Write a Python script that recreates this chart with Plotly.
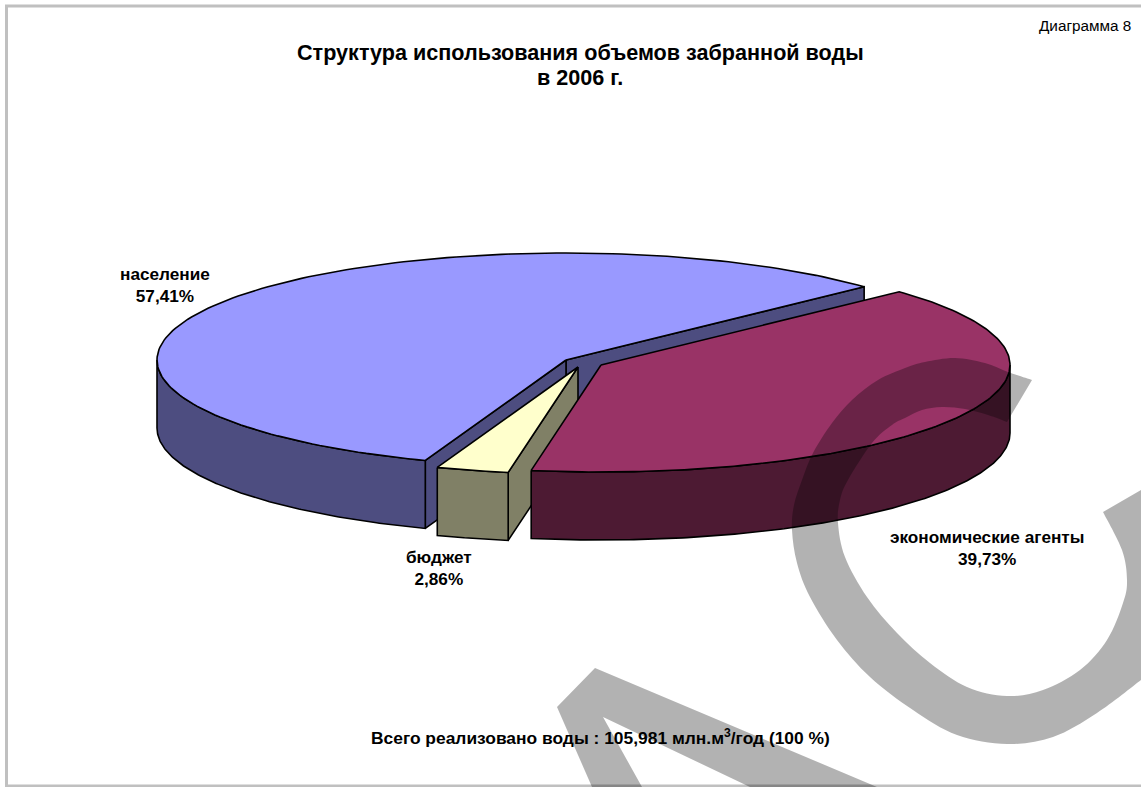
"""Структура использования воды: псевдо-3D круговая диаграмма на go.Scatter."""

import numpy as np
import plotly.graph_objects as go

categories = ["население", "бюджет", "экономические агенты"]
shares = [57.41, 2.86, 39.73]

title_lines = ["Структура использования объемов забранной воды", "в 2006 г."]
total_note = "Всего реализовано воды : 105,981 млн.м<sup>3</sup>/год (100 %)"
corner_note = "Диаграмма 8"

# геометрия "тарелки" в пикселях картинки
START_DEG = 43.2
RX, RY, DEPTH = 409, 107, 68
APEX = [(566, 360), (578, 367), (601, 365)]
TOP_COLORS = ["#9999ff", "#ffffcc", "#993366"]
SIDE_COLORS = ["#4d4d80", "#808066", "#4d1a33"]
LABEL_POS = [(165, 285), (439, 568), (987, 548)]
TITLE_Y = [52, 77]
FONT = "Liberation Sans, Arial, sans-serif"

WATERMARK = "rgba(0,0,0,0.3)"
C_OUTER = [(1141, 680), (1097, 713), (1053, 737), (1007, 744), (957, 735), (913, 710),
           (870, 677), (837, 640), (810, 597), (797, 563), (792, 530), (794, 505), (802, 480),
           (813, 453), (832, 423), (852, 400), (878, 380), (905, 368), (925, 362),
           (955, 358), (985, 363), (1008, 372), (1032, 380)]
C_INNER = [(1007, 422), (988, 415), (965, 409), (942, 407), (922, 410), (905, 418),
           (892, 425), (872, 443), (848, 480), (840, 500), (838, 523), (845, 557),
           (867, 597), (897, 633), (930, 663), (967, 687), (1007, 696), (1043, 690),
           (1080, 670), (1107, 640), (1123, 603), (1127, 580), (1122, 550), (1103, 512)]
N_POLY = [(595, 668), (877, 787), (750, 787), (603, 717), (642, 787), (592, 787), (557, 707)]


def arc(apex, a0, a1):
    t = np.radians(np.linspace(a0, a1, 160))
    return apex[0] + RX * np.cos(t), apex[1] - RY * np.sin(t)


def edge(apex, a):
    t = np.radians(a)
    return apex[0] + RX * np.cos(t), apex[1] - RY * np.sin(t)


def poly(fig, xs, ys, color, name):
    fig.add_trace(go.Scatter(
        x=list(xs) + [xs[0]], y=list(ys) + [ys[0]], mode="lines", fill="toself",
        fillcolor=color, line=dict(color="#000000", width=1.6), name=name,
        hoverinfo="name", showlegend=False,
    ))


def side(fig, apex, a0, a1, color, name):
    x, y = arc(apex, a0, a1)
    poly(fig, list(x) + list(x[::-1]), list(y) + list(y[::-1] + DEPTH), color, name)


def wall(fig, apex, a, color, name):
    ex, ey = edge(apex, a)
    poly(fig, [apex[0], ex, ex, apex[0]],
         [apex[1], ey, ey + DEPTH, apex[1] + DEPTH], color, name)


def top(fig, apex, a0, a1, color, name):
    x, y = arc(apex, a0, a1)
    poly(fig, [apex[0]] + list(x), [apex[1]] + list(y), color, name)


def smooth(points):
    """Catmull-Rom -> cubic bezier, кусок SVG-пути без начального M."""
    out = []
    for i in range(len(points) - 1):
        p0 = points[max(i - 1, 0)]
        p1, p2 = points[i], points[i + 1]
        p3 = points[min(i + 2, len(points) - 1)]
        c1 = (p1[0] + (p2[0] - p0[0]) / 6, p1[1] + (p2[1] - p0[1]) / 6)
        c2 = (p2[0] - (p3[0] - p1[0]) / 6, p2[1] - (p3[1] - p1[1]) / 6)
        out.append(f"C{c1[0]:.1f},{c1[1]:.1f} {c2[0]:.1f},{c2[1]:.1f} {p2[0]},{p2[1]}")
    return " ".join(out)


# границы секторов из долей
bounds = [START_DEG]
for v in shares:
    bounds.append(bounds[-1] + v * 3.6)

fig = go.Figure()

# население: сначала внутренние стенки, потом обод и верх
a0, a1 = bounds[0], bounds[1]
wall(fig, APEX[0], a0, SIDE_COLORS[0], categories[0])
wall(fig, APEX[0], a1, SIDE_COLORS[0], categories[0])
side(fig, APEX[0], 180, a1, SIDE_COLORS[0], categories[0])
top(fig, APEX[0], a0, a1, TOP_COLORS[0], categories[0])

# бюджет
a0, a1 = bounds[1], bounds[2]
wall(fig, APEX[1], a1, SIDE_COLORS[1], categories[1])
side(fig, APEX[1], a0, a1, SIDE_COLORS[1], categories[1])
top(fig, APEX[1], a0, a1, TOP_COLORS[1], categories[1])

# экономические агенты
a0, a1 = bounds[2], bounds[3]
side(fig, APEX[2], a0, 360, SIDE_COLORS[2], categories[2])
top(fig, APEX[2], a0, a1, TOP_COLORS[2], categories[2])

annotations = []
for name, v, (lx, ly) in zip(categories, shares, LABEL_POS):
    annotations.append(dict(
        x=lx, y=ly, text=f"<b>{name}<br>{v:.2f}%</b>".replace(".", ","),
        showarrow=False, font=dict(size=17.2, color="#000000"),
    ))
# строки заголовка отдельно: межстрочный интервал плотнее, чем даёт plotly
for line, ty in zip(title_lines, TITLE_Y):
    annotations.append(dict(x=580, y=ty, text=f"<b>{line}</b>", showarrow=False,
                            font=dict(size=21.6, color="#000000")))
annotations.append(dict(x=600, y=737, text="<b>" + total_note + "</b>", showarrow=False,
                        font=dict(size=17.4, color="#000000")))
annotations.append(dict(x=1133, y=25, text=corner_note, xanchor="right", showarrow=False,
                        font=dict(size=15.3, color="#000000")))

c_path = (f"M{C_OUTER[0][0]},{C_OUTER[0][1]} " + smooth(C_OUTER)
          + f" L{C_INNER[0][0]},{C_INNER[0][1]} " + smooth(C_INNER)
          + " L1141,490 Z")
n_path = "M" + " L".join(f"{x},{y}" for x, y in N_POLY) + " Z"

fig.update_layout(
    width=1141, height=787,
    margin=dict(l=0, r=0, t=0, b=0),
    paper_bgcolor="#ffffff", plot_bgcolor="#ffffff",
    font=dict(family=FONT),
    xaxis=dict(range=[0, 1141], visible=False, fixedrange=True),
    yaxis=dict(range=[787, 0], visible=False, fixedrange=True),
    showlegend=False,
    annotations=annotations,
    shapes=[
        dict(type="rect", x0=6.5, y0=6, x1=1150, y1=786, layer="below",
             line=dict(color="#c0c0c0", width=3)),
        dict(type="path", path=c_path, fillcolor=WATERMARK, line=dict(width=0), layer="above"),
        dict(type="path", path=n_path, fillcolor=WATERMARK, line=dict(width=0), layer="above"),
    ],
)

fig.write_html("out.html", config=dict(displayModeBar=False),
               post_script="document.body.style.margin='0';")
